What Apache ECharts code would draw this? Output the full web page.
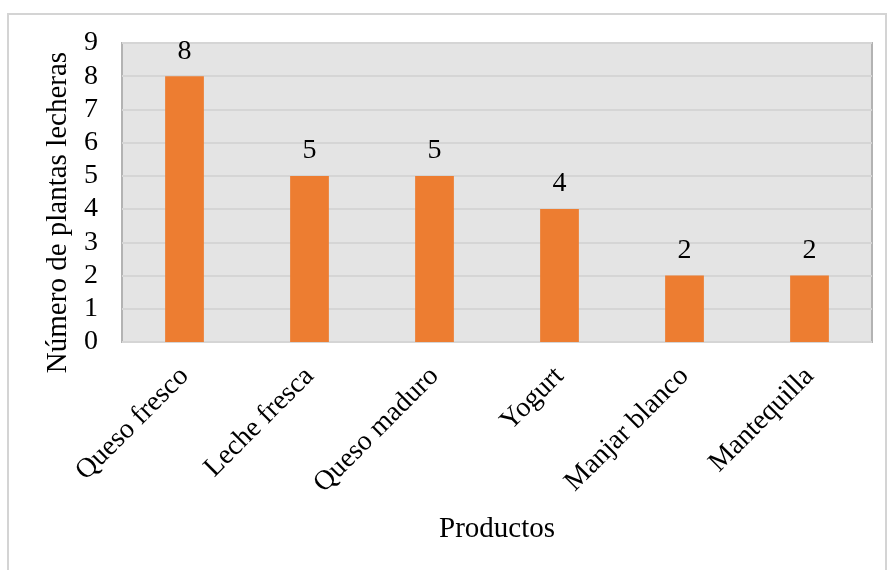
<!DOCTYPE html>
<html>
<head>
<meta charset="utf-8">
<script src="https://cdn.jsdelivr.net/npm/echarts@6/dist/echarts.min.js"></script>
<style>
  html, body { margin: 0; padding: 0; background: #ffffff; }
  #chart { width: 888px; height: 570px; }
</style>
</head>
<body>
<div id="chart"></div>
<script>
// Products and the number of dairy plants making each
const productos = ['Queso fresco', 'Leche fresca', 'Queso maduro', 'Yogurt', 'Manjar blanco', 'Mantequilla'];
const plantas = [8, 5, 5, 4, 2, 2];
const yMin = 0;
const yMax = 9;
const yStep = 1;

const serif = '"Liberation Serif", "DejaVu Serif", serif';

const chart = echarts.init(document.getElementById('chart'));
chart.setOption({
  animation: false,
  textStyle: { fontFamily: serif },
  graphic: [{
    type: 'rect',
    shape: { x: 8, y: 14, width: 878, height: 570 },
    style: { fill: 'none', stroke: '#d4d4d4', lineWidth: 2 },
    silent: true
  }],
  grid: {
    left: 122, right: 16, top: 43, bottom: 228,
    show: true,
    backgroundColor: '#e4e4e4',
    borderColor: '#b3b3b3',
    borderWidth: 2
  },
  xAxis: {
    type: 'category',
    data: productos,
    name: 'Productos',
    nameLocation: 'middle',
    nameGap: 173,
    nameTextStyle: { fontSize: 29, color: '#000', fontFamily: serif },
    axisLine: { show: false },
    axisTick: { show: false },
    axisLabel: {
      rotate: 45,
      margin: 30,
      fontSize: 28,
      color: '#000',
      fontFamily: serif,
      interval: 0
    }
  },
  yAxis: {
    type: 'value',
    min: yMin,
    max: yMax,
    interval: yStep,
    name: 'Número de plantas lecheras',
    nameLocation: 'middle',
    nameGap: 48,
    nameTextStyle: {
      fontSize: 29,
      color: '#000',
      fontFamily: serif,
      // nudges the rotated title a little below the plot's midpoint
      padding: [0, 40, 0, 0]
    },
    axisLine: { show: false },
    axisTick: { show: false },
    axisLabel: { fontSize: 28, color: '#000', margin: 24, fontFamily: serif },
    splitLine: { lineStyle: { color: '#d5d5d5', width: 2 } }
  },
  series: [{
    type: 'bar',
    data: plantas,
    barWidth: '31%',
    itemStyle: { color: '#ed7d31' },
    label: {
      show: true,
      position: 'top',
      distance: 11,
      fontSize: 28,
      color: '#000',
      fontFamily: serif
    }
  }]
});
</script>
</body>
</html>
